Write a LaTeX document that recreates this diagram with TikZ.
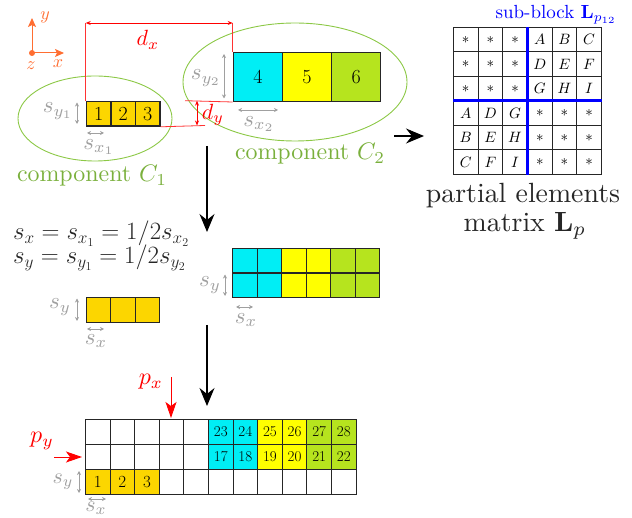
\documentclass[tikz,border=0pt]{standalone}
\usepackage{graphicx}
\usetikzlibrary{arrows.meta}
\definecolor{cgold}{RGB}{252,214,0}
\definecolor{ccyan}{RGB}{0,238,245}
\definecolor{cyell}{RGB}{255,255,0}
\definecolor{clime}{RGB}{182,228,30}
\definecolor{cgreen}{RGB}{122,176,60}
\definecolor{cellip}{RGB}{140,200,70}
\definecolor{corange}{RGB}{255,110,50}
\definecolor{cgray}{RGB}{160,160,160}
\newcommand{\fsz}[1]{\fontsize{#1}{#1}\selectfont}
\newcommand{\sm}[2]{\scalebox{#1}{$#2$}}
\begin{document}
\begin{tikzpicture}[x=1pt,y=-1pt,
  bigcell/.style={draw=black!85,line width=1.3pt,inner sep=0pt,anchor=north west,font=\fsz{20}},
  midcell/.style={draw=black!85,line width=1.1pt,inner sep=0pt,anchor=north west,minimum width=24.5pt,minimum height=24.5pt},
  gridcell/.style={draw=black!85,line width=0.9pt,inner sep=0pt,anchor=north west,minimum width=24.6pt,minimum height=25pt,font=\fsz{15}},
  matcell/.style={draw=black!85,line width=0.8pt,inner sep=0pt,anchor=north west,minimum width=24.67pt,minimum height=24.5pt},
  redline/.style={red!80,line width=0.8pt},
  reddim/.style={red,line width=0.8pt,{Stealth[length=5pt,width=4pt]}-{Stealth[length=5pt,width=4pt]}},
  graydim/.style={cgray,line width=0.8pt,{Stealth[length=4pt,width=4pt]}-{Stealth[length=4pt,width=4pt]}},
  graylbl/.style={text=cgray,inner sep=0pt},
  bigarrow/.style={black,line width=1.1pt,-{Stealth[length=18pt,width=15pt,inset=6pt]}},
  redarrow/.style={red,line width=1pt,-{Stealth[length=16pt,width=11pt,inset=4pt]}},
  comp/.style={text=cgreen,inner sep=0pt},
  darktxt/.style={text=black!85,inner sep=0pt}]
\useasboundingbox (0,0) rectangle (632,518);

% ---- axes icon
\node[circle,fill=corange,inner sep=0pt,minimum size=6pt] (orig) at (32,53) {};
\coordinate (ay) at (32,18);
\coordinate (ax) at (64,53);
\draw[corange,line width=1pt,-{Stealth[length=9pt,width=8pt,inset=2pt]}] (orig.center) -- (ay);
\draw[corange,line width=1pt,-{Stealth[length=9pt,width=8pt,inset=2pt]}] (orig.center) -- (ax);
\node[text=corange,inner sep=0pt] (ly) at (45,17) {\sm{1.8}{y}};
\node[text=corange,inner sep=0pt] (lx) at (58,64) {\sm{1.8}{x}};
\node[text=corange,inner sep=0pt] (lz) at (31,66) {\sm{1.8}{z}};

% ---- ellipses
\draw[cellip,line width=0.9pt] (95,118.5) ellipse [x radius=77pt,y radius=42.5pt];
\draw[cellip,line width=0.9pt] (295,82) ellipse [x radius=112pt,y radius=59pt];

% ---- component 1 cells
\foreach \i in {1,2,3}
  \node[bigcell,fill=cgold,minimum width=24.5pt,minimum height=24.5pt] (c1-\i) at ({85.7+24.5*(\i-1)},101) {\i};
% ---- component 2 cells
\foreach \i/\col in {4/ccyan,5/cyell,6/clime}
  \node[bigcell,fill=\col,minimum width=49.1pt,minimum height=49pt] (c2-\i) at ({232.7+49.1*(\i-4)},51.7) {\i};

% ---- red dimensions
\coordinate (dxL) at (85.7,23);
\coordinate (dxR) at (232.7,23);
\draw[redline] (c1-1.north west) -- (dxL);
\draw[redline] (c2-4.north west) -- (dxR);
\draw[reddim] (dxL) -- (dxR);
\node[text=red,inner sep=0pt] (ldx) at (148,40) {\sm{2.2}{d_x}};
\coordinate (dyT) at (185,100.7);
\coordinate (dyB) at (205,125.5);
\draw[redline] (c2-4.south west) -- (dyT);
\draw[redline] (c1-3.south east) -- (dyB);
\coordinate (dyA) at (197,100.7);
\coordinate (dyC) at (197,125.5);
\draw[reddim] (dyA) -- (dyC);
\node[text=red,inner sep=0pt] (ldy) at (213,115) {\sm{2.2}{d_y}};

% ---- gray dims top
\coordinate (a1) at (77,102.5); \coordinate (a2) at (77,124);
\draw[graydim] (a1) -- (a2);
\node[graylbl] (lsy1) at (58,111) {\sm{2.3}{s_{y_1}}};
\coordinate (a3) at (87,133); \coordinate (a4) at (104,133);
\draw[graydim] (a3) -- (a4);
\node[graylbl] (lsx1) at (99,147) {\sm{2.3}{s_{x_1}}};
\coordinate (a5) at (224,54); \coordinate (a6) at (224,98.5);
\draw[graydim] (a5) -- (a6);
\node[graylbl] (lsy2) at (206,78) {\sm{2.3}{s_{y_2}}};
\coordinate (a7) at (238,110); \coordinate (a8) at (278,110);
\draw[graydim] (a7) -- (a8);
\node[graylbl] (lsx2) at (259,124) {\sm{2.3}{s_{x_2}}};

% ---- component labels
\node[comp] (lc1) at (92,176) {\scalebox{2.39}{component $C_1$}};
\node[comp] (lc2) at (310,154) {\scalebox{2.39}{component $C_2$}};

% ---- arrow to matrix
\coordinate (m1) at (394,136); \coordinate (m2) at (424,136);
\draw[bigarrow] (m1) -- (m2);

% ---- matrix
\foreach \r/\row in {1/{*,*,*,A,B,C},2/{*,*,*,D,E,F},3/{*,*,*,G,H,I},4/{A,D,G,*,*,*},5/{B,E,H,*,*,*},6/{C,F,I,*,*,*}}
  \foreach \e [count=\c] in \row
    \node[matcell] (mx-\r-\c) at ({453+24.67*(\c-1)},{27+24.5*(\r-1)}) {\sm{1.5}{\e}};
\draw[blue,line width=3pt] (mx-1-4.north west) -- (mx-6-4.south west);
\draw[blue,line width=3pt] (mx-4-1.north west) -- (mx-4-6.north east);
\node[text=blue,inner sep=0pt] (lsub) at (556,15) {\scalebox{1.9}{sub-block $\mathbf{L}_{p_{12}}$}};
\node[darktxt] (lpe) at (523,196) {\scalebox{2.78}{partial elements}};
\node[darktxt] (lmat) at (525,226) {\scalebox{2.78}{matrix $\mathbf{L}_p$}};

% ---- first down arrow
\coordinate (d1a) at (207,146); \coordinate (d1b) at (207,232);
\draw[bigarrow] (d1a) -- (d1b);

% ---- equations
\node[darktxt,font=\fsz{25},anchor=base west] (eq1) at (13,240) {$s_x = s_{x_1} = 1/2 s_{x_2}$};
\node[darktxt,font=\fsz{25},anchor=base west] (eq2) at (13,264) {$s_y = s_{y_1} = 1/2 s_{y_2}$};

% ---- middle cells
\foreach \i in {1,2,3}
  \node[midcell,fill=cgold,minimum height=25pt] (g-\i) at ({85.7+24.5*(\i-1)},297) {};
\coordinate (b1) at (77,298.5); \coordinate (b2) at (77,321);
\draw[graydim] (b1) -- (b2);
\node[graylbl] (lsy3) at (60,307) {\sm{2.3}{s_y}};
\coordinate (b3) at (87,329); \coordinate (b4) at (104,329);
\draw[graydim] (b3) -- (b4);
\node[graylbl] (lsx3) at (96,341) {\sm{2.3}{s_x}};

\foreach \c/\col in {1/ccyan,2/ccyan,3/cyell,4/cyell,5/clime,6/clime}
  \foreach \r in {1,2}
    \node[midcell,fill=\col] (h-\r-\c) at ({232.2+24.5*(\c-1)},{248+24.5*(\r-1)}) {};
\coordinate (b5) at (225,274.5); \coordinate (b6) at (225,296);
\draw[graydim] (b5) -- (b6);
\node[graylbl] (lsy4) at (210,285) {\sm{2.3}{s_y}};
\coordinate (b7) at (236,307); \coordinate (b8) at (253,307);
\draw[graydim] (b7) -- (b8);
\node[graylbl] (lsx4) at (246,320) {\sm{2.3}{s_x}};

% ---- second down arrow
\coordinate (d2a) at (207,325); \coordinate (d2b) at (207,406);
\draw[bigarrow] (d2a) -- (d2b);

% ---- bottom grid
\foreach \c in {1,...,11}
  \foreach \r in {1,2,3}
    \node[gridcell] (q-\r-\c) at ({85+24.6*(\c-1)},{419+25*(\r-1)}) {};
\foreach \c/\n/\col in {6/23/ccyan,7/24/ccyan,8/25/cyell,9/26/cyell,10/27/clime,11/28/clime}
  \node[gridcell,fill=\col] (t-\c) at ({85+24.6*(\c-1)},419) {\n};
\foreach \c/\n/\col in {6/17/ccyan,7/18/ccyan,8/19/cyell,9/20/cyell,10/21/clime,11/22/clime}
  \node[gridcell,fill=\col] (u-\c) at ({85+24.6*(\c-1)},444) {\n};
\foreach \c in {1,2,3}
  \node[gridcell,fill=cgold,font=\fsz{17}] (v-\c) at ({85+24.6*(\c-1)},469) {\c};

% ---- p_x, p_y
\coordinate (px1) at (171,377); \coordinate (px2) at (171,418);
\draw[redarrow] (px1) -- (px2);
\node[text=red,inner sep=0pt] (lpx) at (151,382) {\sm{2.4}{p_x}};
\coordinate (py1) at (54,457); \coordinate (py2) at (82,457);
\draw[redarrow] (py1) -- (py2);
\node[text=red,inner sep=0pt] (lpy) at (42,441) {\sm{2.4}{p_y}};

\coordinate (e1) at (79,471); \coordinate (e2) at (79,493);
\draw[graydim] (e1) -- (e2);
\node[graylbl] (lsy5) at (63,482) {\sm{2.2}{s_y}};
\coordinate (e3) at (88,499); \coordinate (e4) at (106,499);
\draw[graydim] (e3) -- (e4);
\node[graylbl] (lsx5) at (96,508) {\sm{2.2}{s_x}};
\end{tikzpicture}
\end{document}
